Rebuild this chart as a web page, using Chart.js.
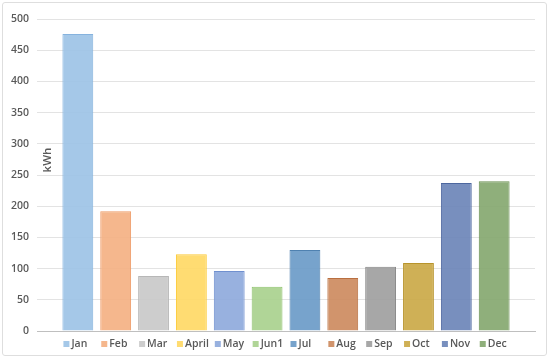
<!DOCTYPE html>
<html>
<head>
<meta charset="utf-8">
<script src="https://cdn.jsdelivr.net/npm/chart.js@4"></script>
<style>
  html, body { margin: 0; padding: 0; background: #fff; }
  #wrap { position: relative; width: 550px; height: 360px; }
  #frame { position: absolute; left: 2px; top: 2px; width: 543px; height: 352px; border: 1px solid #dedede; border-radius: 3px; pointer-events: none; }
  canvas { position: absolute; left: 0; top: 0; }
</style>
</head>
<body>
<div id="wrap">
  <canvas id="chart" width="550" height="360"></canvas>
  <div id="frame"></div>
</div>
<script>
const months = ['Jan', 'Feb', 'Mar', 'April', 'May', 'Jun1', 'Jul', 'Aug', 'Sep', 'Oct', 'Nov', 'Dec']
const usage = [476, 192, 88, 123, 96, 71, 130, 85, 103, 109, 237, 240]
const fills = [
  'rgba(157,195,230,0.92)', 'rgba(244,177,131,0.92)', 'rgba(201,201,201,0.92)', 'rgba(255,217,102,0.92)',
  'rgba(143,170,220,0.92)', 'rgba(169,209,142,0.92)', 'rgba(107,155,200,0.92)', 'rgba(205,139,95,0.92)',
  'rgba(160,160,160,0.92)', 'rgba(203,169,72,0.92)', 'rgba(108,133,184,0.92)', 'rgba(134,168,112,0.92)'
]
const borders = [
  '#86b3de', '#ee9b66', '#b7b7b7', '#fccb3a',
  '#7090cf', '#8fc26e', '#4f81b0', '#b96f40',
  '#878787', '#b8942c', '#4d679f', '#6a9052'
]

const textColor = '#595959'
const font = '"Open Sans", "Liberation Sans", sans-serif'

// legend drawn under each bar, the way the original lines them up
const barLegend = {
  id: 'barLegend',
  afterDraw(chart) {
    const ctx = chart.ctx
    ctx.save()
    ctx.font = '600 10.5px ' + font
    ctx.textBaseline = 'middle'
    ctx.textAlign = 'left'
    months.forEach((m, i) => {
      const bar = chart.getDatasetMeta(i).data[0]
      const left = bar.x - bar.width / 2
      const y = 344
      ctx.fillStyle = fills[i]
      ctx.fillRect(left + 1, y - 3, 6, 6)
      ctx.fillStyle = textColor
      ctx.fillText(m, left + 9, y)
    })
    ctx.restore()
  }
}

// the axis title sits inside the plot area next to the first bar
const unitTitle = {
  id: 'unitTitle',
  afterDraw(chart) {
    const ctx = chart.ctx
    ctx.save()
    ctx.translate(48, 160)
    ctx.rotate(-Math.PI / 2)
    ctx.font = '600 11.5px ' + font
    ctx.fillStyle = textColor
    ctx.textAlign = 'center'
    ctx.textBaseline = 'middle'
    ctx.fillText('kWh', 0, 0)
    ctx.restore()
  }
}

const datasets = months.map((m, i) => ({
  label: m,
  data: [usage[i]],
  backgroundColor: fills[i],
  borderColor: borders[i],
  borderWidth: 1,
  categoryPercentage: 0.912,
  barPercentage: 0.815
}))

new Chart(document.getElementById('chart'), {
  type: 'bar',
  data: { labels: [''], datasets: datasets },
  options: {
    responsive: false,
    animation: false,
    layout: { padding: { top: 19, right: 15, bottom: 29, left: 0 } },
    plugins: {
      legend: { display: false },
      tooltip: { enabled: false }
    },
    scales: {
      x: {
        grid: { display: false },
        border: { color: '#bfbfbf' },
        ticks: { display: false },
        afterFit(scale) { scale.height = 0 }
      },
      y: {
        min: 0,
        max: 500,
        ticks: { stepSize: 50, color: textColor, padding: 8, font: { family: font, size: 10.5, weight: '600' } },
        grid: { color: '#e3e3e3', drawTicks: false },
        border: { display: false },
        afterFit(scale) { scale.width = 37 }
      }
    }
  },
  plugins: [barLegend, unitTitle]
})
</script>
</body>
</html>
